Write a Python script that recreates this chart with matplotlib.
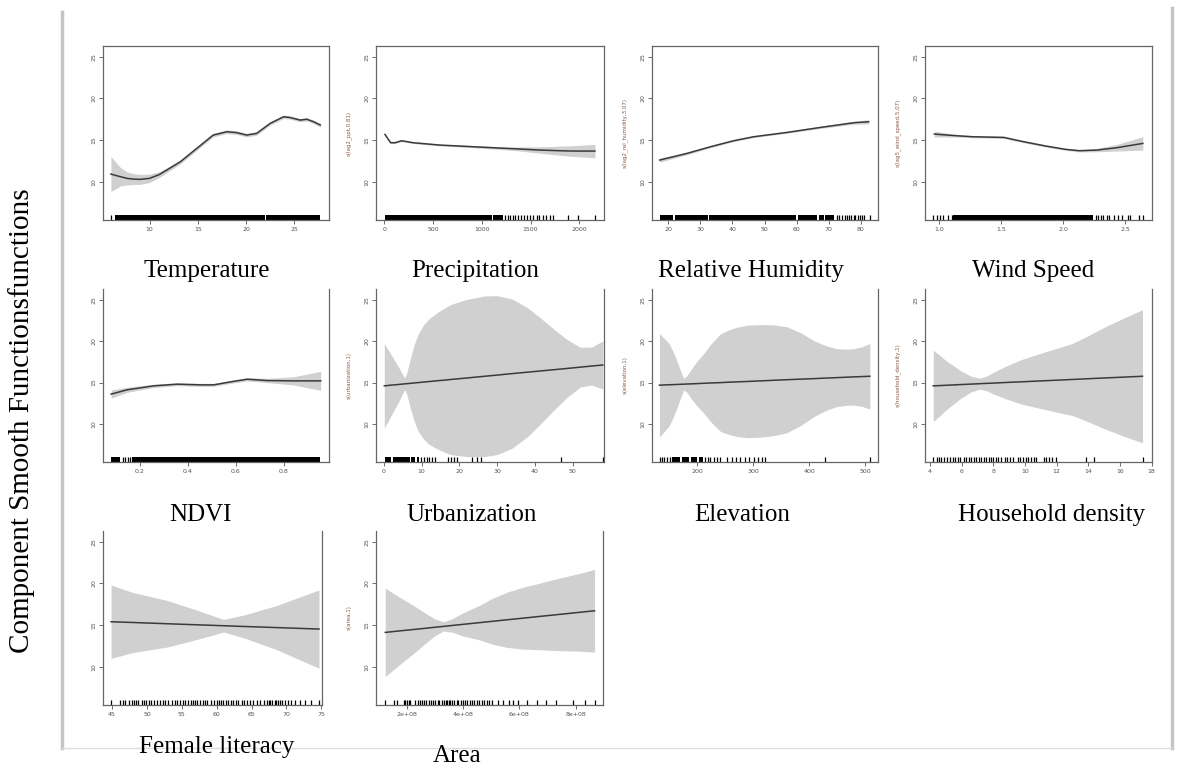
import matplotlib
matplotlib.use("Agg")
import matplotlib.pyplot as plt
from matplotlib.lines import Line2D
from matplotlib.patches import Rectangle

W, H = 1181, 769

# ---- data (fit, half-width of band, rug) ----
temp_x = [6.0, 6.5, 7.0, 7.66, 8.3, 9.03, 10.0, 11.0, 11.8, 13.2, 14.9, 16.6, 18.0, 19.0,
          20.07, 21.1, 22.5, 23.9, 24.6, 25.6, 26.3, 27.0, 27.7]
temp_fit = [10.92, 10.75, 10.6, 10.4, 10.32, 10.28, 10.4, 10.85, 11.4, 12.4, 14.0, 15.6, 16.0,
            15.9, 15.6, 15.8, 17.0, 17.8, 17.7, 17.4, 17.5, 17.2, 16.8]
temp_se = [2.1, 1.6, 1.1, 0.8, 0.65, 0.6, 0.5, 0.35, 0.3, 0.25, 0.22, 0.22, 0.22, 0.22,
           0.22, 0.22, 0.2, 0.2, 0.2, 0.2, 0.2, 0.2, 0.22]
temp_rug_spans = [(6.38, 21.97), (22.1, 27.66)]
temp_rug = [6.0]

ppt_x = [7, 40, 65, 109, 178, 297, 571, 913, 1255, 1400, 1597, 1800, 1938, 2160]
ppt_fit = [15.68, 15.1, 14.68, 14.68, 14.92, 14.68, 14.4, 14.2, 14.0, 13.92, 13.8, 13.72, 13.68, 13.68]
ppt_se = [0.15, 0.12, 0.1, 0.1, 0.1, 0.1, 0.1, 0.12, 0.18, 0.25, 0.38, 0.55, 0.65, 0.8]
ppt_rug_spans = [(7, 1101), (1118, 1220)]
ppt_rug = [1238, 1265, 1289, 1316, 1340, 1368, 1398, 1432, 1460, 1494, 1528, 1562, 1590,
           1624, 1658, 1699, 1733, 1887, 1990, 2161]

rh_x = [17.4, 25.9, 33.2, 40.4, 46.6, 57.0, 67.4, 77.7, 82.4]
rh_fit = [12.6, 13.4, 14.2, 14.92, 15.4, 15.92, 16.52, 17.08, 17.2]
rh_se = [0.25, 0.15, 0.12, 0.1, 0.1, 0.1, 0.12, 0.18, 0.25]
rh_rug_spans = [(17.4, 21.6), (22.1, 32.3), (32.8, 59.8), (60.3, 66.3), (66.9, 68.4), (68.9, 71.5)]
rh_rug = [72.5, 73.3, 74.2, 75.0, 75.6, 76.3, 77.0, 77.7, 78.3, 79.0, 79.6, 80.2, 81.0, 82.7]

ws_x = [0.96, 1.14, 1.27, 1.52, 1.68, 1.86, 2.02, 2.13, 2.27, 2.43, 2.64]
ws_fit = [15.72, 15.52, 15.4, 15.32, 14.8, 14.28, 13.88, 13.72, 13.8, 14.08, 14.6]
ws_se = [0.35, 0.15, 0.12, 0.12, 0.12, 0.12, 0.12, 0.15, 0.2, 0.4, 0.8]
ws_rug_spans = [(1.113, 2.24)]
ws_rug = [0.952, 0.979, 1.005, 1.03, 1.07, 1.10, 2.26, 2.28, 2.30, 2.32, 2.35, 2.37, 2.41,
          2.44, 2.47, 2.52, 2.54, 2.61, 2.64]

ndvi_x = [0.081, 0.147, 0.258, 0.356, 0.453, 0.508, 0.578, 0.647, 0.73, 0.84, 0.953]
ndvi_fit = [13.6, 14.12, 14.6, 14.8, 14.72, 14.72, 15.08, 15.4, 15.24, 15.2, 15.2]
ndvi_se = [0.5, 0.3, 0.2, 0.18, 0.18, 0.18, 0.18, 0.2, 0.25, 0.5, 1.15]
ndvi_rug_spans = [(0.081, 0.119), (0.168, 0.95)]
ndvi_rug = [0.13, 0.14, 0.151, 0.161]

urb_x = [0.1, 1, 2, 3, 4, 5, 5.5, 6, 7, 8, 9, 10.5, 12, 14, 16, 18, 22, 26.5, 30, 34, 38,
         41, 45, 48.5, 52, 55, 58]
urb_fit = [14.60, 14.64, 14.69, 14.73, 14.77, 14.82, 14.84, 14.86, 14.90, 14.95, 14.99,
           15.06, 15.12, 15.21, 15.29, 15.38, 15.55, 15.75, 15.90, 16.08, 16.25, 16.38,
           16.55, 16.70, 16.86, 16.99, 17.12]
urb_se = [5.1, 4.4, 3.6, 2.8, 2.0, 1.1, 0.7, 1.2, 3.0, 4.6, 5.8, 6.9, 7.6, 8.2, 8.7, 9.1,
          9.5, 9.7, 9.6, 9.0, 7.8, 6.6, 4.9, 3.5, 2.4, 2.3, 2.9]
urb_rug_spans = [(0.2, 2.0), (2.3, 6.8), (7.1, 8.3), (8.7, 9.3)]
urb_rug = [9.9, 10.6, 11.3, 12.0, 12.8, 13.6, 17.1, 17.7, 18.5, 19.4, 23.2, 24.6, 25.7, 46.8, 58.0]

elev_x = [133, 142, 150, 158, 165, 171, 176, 182, 190, 200, 212, 226, 242, 256, 271, 290,
          313, 336, 360, 385, 408, 430, 449, 465, 479, 494, 508]
elev_fit = [14.68, 14.71, 14.73, 14.75, 14.77, 14.79, 14.80, 14.82, 14.84, 14.87, 14.91,
            14.95, 14.99, 15.04, 15.08, 15.13, 15.20, 15.27, 15.34, 15.41, 15.47, 15.54,
            15.59, 15.64, 15.68, 15.72, 15.76]
elev_se = [6.24, 5.6, 5.0, 3.9, 2.7, 1.6, 0.7, 1.0, 1.8, 2.7, 3.6, 4.8, 5.9, 6.3, 6.6, 6.8,
           6.8, 6.7, 6.4, 5.6, 4.6, 3.9, 3.5, 3.4, 3.4, 3.6, 3.96]
elev_rug_spans = [(156, 170), (173, 186), (189, 200), (203, 211)]
elev_rug = [133.5, 137.6, 141.8, 146.5, 151.3, 214.9, 219, 223.8, 229.7, 235.6, 241.6, 253.5,
            262.4, 270.1, 277.2, 286.1, 292.1, 301, 308.1, 315.8, 321.8, 428.7, 507.7]

hh_x = [4.21, 4.6, 5.0, 5.5, 6.0, 6.6, 7.15, 7.6, 8.0, 8.83, 9.8, 10.93, 12.0, 13.0, 14.0,
        15.1, 16.2, 17.43]
hh_fit = [14.60, 14.63, 14.67, 14.71, 14.76, 14.81, 14.86, 14.90, 14.93, 15.01, 15.09,
          15.19, 15.28, 15.37, 15.46, 15.56, 15.65, 15.76]
hh_se = [4.3, 3.7, 3.0, 2.3, 1.6, 0.95, 0.66, 0.9, 1.3, 2.0, 2.7, 3.3, 3.85, 4.35, 5.2, 6.2,
         7.1, 8.04]
hh_rug_spans = []
hh_rug = [4.21, 4.42, 4.59, 4.73, 4.88, 5.05, 5.26, 5.43, 5.57, 5.78, 5.93, 6.14, 6.31, 6.48,
          6.62, 6.77, 6.94, 7.11, 7.25, 7.40, 7.57, 7.72, 7.84, 7.99, 8.16, 8.30, 8.51, 8.72,
          8.87, 9.04, 9.25, 9.56, 9.71, 9.88, 10.05, 10.19, 10.40, 10.55, 10.72, 11.18, 11.35,
          11.51, 11.72, 11.98, 13.87, 14.39, 17.43]

fl_x = [44.86, 48, 52.9, 57, 61, 64, 68.6, 72, 74.67]
fl_fit = [15.40, 15.31, 15.16, 15.04, 14.92, 14.83, 14.70, 14.60, 14.52]
fl_se = [4.4, 3.6, 2.8, 1.8, 0.76, 1.4, 2.65, 3.8, 4.7]
fl_rug_spans = []
fl_rug = [44.86, 46.10, 46.57, 46.90, 47.38, 47.86, 48.19, 48.48, 48.67, 49.29, 49.62, 49.90,
          50.24, 50.57, 50.95, 51.43, 51.81, 52.29, 52.62, 52.95, 53.57, 54.05, 54.29, 54.67,
          55.14, 55.48, 55.95, 56.29, 56.57, 56.90, 57.24, 57.62, 58.0, 58.33, 58.67, 59.14,
          59.62, 60.0, 60.38, 60.57, 60.95, 61.29, 61.67, 62.0, 62.38, 62.76, 63.10, 63.57,
          63.90, 64.29, 64.76, 65.24, 65.71, 66.19, 66.76, 67.24, 67.52, 67.71, 68.0, 68.33,
          68.57, 68.81, 69.14, 69.43, 69.76, 70.24, 70.71, 71.19, 71.90, 72.62, 73.57, 74.67]

# area in units of 1e8
area_x = [1.23, 1.8, 2.35, 2.7, 3.0, 3.3, 3.6, 4.0, 4.6, 5.0, 5.54, 6.1, 6.72, 7.5, 8.1, 8.67]
area_fit = [14.12, 14.32, 14.51, 14.63, 14.74, 14.84, 14.95, 15.09, 15.30, 15.44, 15.63,
            15.82, 16.04, 16.31, 16.52, 16.72]
area_se = [5.3, 3.9, 2.6, 1.7, 1.0, 0.55, 0.8, 1.4, 2.1, 2.7, 3.3, 3.7, 4.0, 4.4, 4.65, 4.96]
area_rug_spans = []
area_rug = [1.232, 1.528, 1.646, 1.882, 1.941, 2.0, 2.059, 2.118, 2.295, 2.378, 2.449, 2.531,
            2.614, 2.685, 2.768, 2.850, 2.921, 3.004, 3.087, 3.157, 3.240, 3.323, 3.394, 3.441,
            3.488, 3.535, 3.594, 3.677, 3.772, 3.831, 3.913, 4.008, 4.067, 4.150, 4.244, 4.303,
            4.386, 4.480, 4.575, 4.657, 4.752, 4.835, 4.929, 5.012, 5.248, 5.425, 5.638, 5.756,
            5.957, 6.252, 6.606, 6.937, 7.315, 7.906, 8.319, 8.673]

y_ticks = [10, 15, 20, 25]


def px_axes(l, t, r, b):
    return [l / W, 1 - b / H, (r - l) / W, (b - t) / H]


def panel(box, xs, fit, se, spans, rug, xlim, xticks, xticklabels, ylabel, top=True):
    ax = fig.add_axes(px_axes(*box))
    lo = [f - s for f, s in zip(fit, se)]
    hi = [f + s for f, s in zip(fit, se)]
    ax.fill_between(xs, lo, hi, color="#d0d0d0", lw=0)
    ax.plot(xs, fit, color="#3a3a3a", lw=1.1)
    tr = ax.get_xaxis_transform()
    for a, b in spans:
        ax.add_patch(Rectangle((a, 0), b - a, 0.03, transform=tr, color="black", lw=0))
    ax.vlines(rug, 0, 0.03, transform=tr, color="black", lw=0.9)
    ax.set_xlim(*xlim)
    ax.set_ylim(5.4, 26.3)
    ax.set_xticks(xticks)
    ax.set_xticklabels(xticklabels)
    ax.set_yticks(y_ticks)
    ax.set_yticklabels([str(v) for v in y_ticks], rotation=90, va="center")
    ax.tick_params(direction="out", length=3, width=0.6, labelsize=4.5,
                   labelcolor="#555555", color="#555555", pad=2)
    for s in ax.spines.values():
        s.set_color("#666666")
        s.set_linewidth(0.9)
    if not top:
        ax.spines["top"].set_visible(False)
    if ylabel:
        ax.set_ylabel(ylabel, fontsize=4, color="#8a5a44", labelpad=9)
    return ax


fig = plt.figure(figsize=(W / 100, H / 100), dpi=100)

# frame of the pasted screenshot
fig.add_artist(Line2D([62 / W, 62 / W], [1 - 12 / H, 1 - 748 / H], color="#c4c4c4", lw=2.5))
fig.add_artist(Line2D([1172 / W, 1172 / W], [1 - 8 / H, 1 - 748 / H], color="#c4c4c4", lw=2.5))
fig.add_artist(Line2D([62 / W, 1172 / W], [1 - 748 / H, 1 - 748 / H], color="#dddddd", lw=1))

panel((103, 46, 329, 220), temp_x, temp_fit, temp_se, temp_rug_spans, temp_rug,
      (5.18, 28.6), [10, 15, 20, 25], ["10", "15", "20", "25"], None)
panel((376, 46, 604, 220), ppt_x, ppt_fit, ppt_se, ppt_rug_spans, ppt_rug,
      (-85, 2253), [0, 500, 1000, 1500, 2000], ["0", "500", "1000", "1500", "2000"],
      "s(lag2_ppt,0.81)")
panel((652, 46, 878, 220), rh_x, rh_fit, rh_se, rh_rug_spans, rh_rug,
      (15.0, 85.3), [20, 30, 40, 50, 60, 70, 80], ["20", "30", "40", "50", "60", "70", "80"],
      "s(lag2_rel_humidity,3.07)")
panel((925, 46, 1152, 220), ws_x, ws_fit, ws_se, ws_rug_spans, ws_rug,
      (0.885, 2.714), [1.0, 1.5, 2.0, 2.5], ["1.0", "1.5", "2.0", "2.5"],
      "s(lag5_wind_speed,5.07)")

panel((103, 289, 329, 462), ndvi_x, ndvi_fit, ndvi_se, ndvi_rug_spans, ndvi_rug,
      (0.047, 0.9875), [0.2, 0.4, 0.6, 0.8], ["0.2", "0.4", "0.6", "0.8"], None, top=False)
panel((376, 289, 604, 462), urb_x, urb_fit, urb_se, urb_rug_spans, urb_rug,
      (-2.1, 58.3), [0, 10, 20, 30, 40, 50], ["0", "10", "20", "30", "40", "50"],
      "s(urbanization,1)", top=False)
panel((652, 289, 878, 462), elev_x, elev_fit, elev_se, elev_rug_spans, elev_rug,
      (119.8, 522.6), [200, 300, 400, 500], ["200", "300", "400", "500"],
      "s(elevation,1)", top=False)
panel((925, 289, 1152, 462), hh_x, hh_fit, hh_se, hh_rug_spans, hh_rug,
      (3.69, 18.03), [4, 6, 8, 10, 12, 14, 16, 18],
      ["4", "6", "8", "10", "12", "14", "16", "18"], "s(household_density,1)", top=False)

panel((103, 531, 322, 705), fl_x, fl_fit, fl_se, fl_rug_spans, fl_rug,
      (43.7, 75.1), [45, 50, 55, 60, 65, 70, 75], ["45", "50", "55", "60", "65", "70", "75"],
      None, top=False)
panel((376, 531, 603, 705), area_x, area_fit, area_se, area_rug_spans, area_rug,
      (0.9, 8.97), [2, 4, 6, 8], ["2e+08", "4e+08", "6e+08", "8e+08"], "s(area,1)", top=False)

labels = [("Temperature", 207, 277), ("Precipitation", 475, 277),
          ("Relative Humidity", 751, 277), ("Wind Speed", 1033, 277),
          ("NDVI", 200, 521), ("Urbanization", 472, 521),
          ("Elevation", 742, 521), ("Household density", 1052, 521),
          ("Female literacy", 217, 753), ("Area", 457, 762)]
for txt, x, y in labels:
    fig.text(x / W, 1 - y / H, txt, ha="center", va="baseline",
             family="Liberation Serif", fontsize=18)

fig.text(22 / W, 1 - 421 / H, "Component Smooth Functionsfunctions", rotation=90,
         ha="center", va="center", family="Liberation Serif", fontsize=21)

fig.savefig("out.png", dpi=100)
